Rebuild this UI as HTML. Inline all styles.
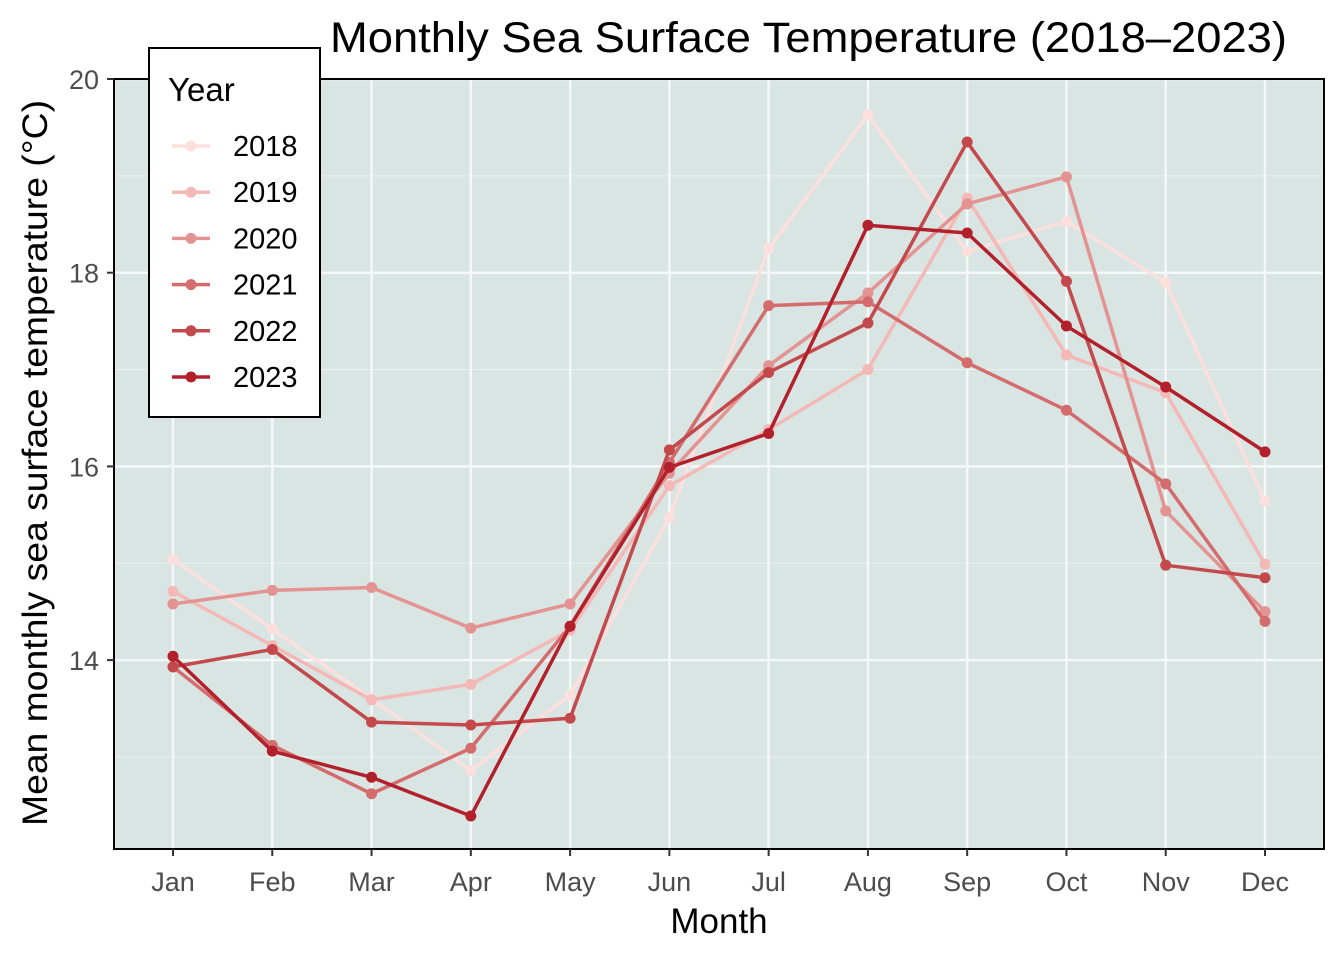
<!DOCTYPE html>
<html><head><meta charset="utf-8"><style>
body{margin:0;background:#fff;}
svg text{font-family:"Liberation Sans",Arial,sans-serif;}
</style></head><body>
<svg id="chart" width="1344" height="960">
<rect x="114" y="79" width="1210" height="770" fill="#d8e5e2"/>
<g id="grid"></g>
<g id="series"></g>
<rect x="114" y="79" width="1210" height="770" fill="none" stroke="#000" stroke-width="2"/>
<g id="axes"></g>
<text x="330" y="52" font-size="43" textLength="957" lengthAdjust="spacingAndGlyphs">Monthly Sea Surface Temperature (2018–2023)</text>
<text x="719" y="933" font-size="35" text-anchor="middle">Month</text>
<text transform="translate(47,826) rotate(-90)" font-size="35" textLength="726" lengthAdjust="spacingAndGlyphs">Mean monthly sea surface temperature (°C)</text>
<g id="legend">
<rect x="149" y="48" width="171" height="369" fill="#fff" stroke="#000" stroke-width="2"/>
<text x="168" y="101" font-size="33">Year</text>
</g>
</svg>
<script>
const months=["Jan","Feb","Mar","Apr","May","Jun","Jul","Aug","Sep","Oct","Nov","Dec"];
const years=["2018","2019","2020","2021","2022","2023"];
const yTicks=[14,16,18,20];
const v2018=[15.04,14.32,13.6,12.86,13.64,15.47,18.25,19.63,18.22,18.53,17.9,15.64];
const v2019=[14.71,14.15,13.59,13.75,14.31,15.8,16.38,17.0,18.77,17.15,16.76,14.99];
const v2020=[14.58,14.72,14.75,14.33,14.58,15.93,17.04,17.79,18.71,18.99,15.54,14.5];
const v2021=[13.93,13.12,12.62,13.09,14.35,16.04,17.66,17.7,17.07,16.58,15.82,14.4];
const v2022=[13.93,14.11,13.36,13.33,13.4,16.17,16.97,17.48,19.35,17.91,14.98,14.85];
const v2023=[14.04,13.06,12.79,12.39,14.35,15.99,16.34,18.49,18.41,17.45,16.82,16.15];
const seriesVals=[v2018,v2019,v2020,v2021,v2022,v2023];
const colors=["#fde0dd","#f4b8b6","#e39391","#d46c6d","#c4494d","#b2202b"];
const NS="http://www.w3.org/2000/svg";
const X=i=>173+i*(1265-173)/11;
const Y=v=>79+(20-v)*96.85;
function mk(t,a,p){const e=document.createElementNS(NS,t);for(const k in a)e.setAttribute(k,a[k]);p.appendChild(e);return e;}
const grid=document.getElementById('grid'),axes=document.getElementById('axes'),ser=document.getElementById('series'),leg=document.getElementById('legend');
for(let v=13;v<=19;v+=2){const l=mk('line',{x1:114,x2:1324,y1:Y(v),y2:Y(v),stroke:'#ecf2f1','stroke-width':1},grid);

}
yTicks.forEach(v=>{const l=mk('line',{x1:114,x2:1324,y1:Y(v),y2:Y(v),stroke:'#f4f8f7','stroke-width':2.5},grid);


mk('line',{x1:107,x2:114,y1:Y(v),y2:Y(v),stroke:'#333','stroke-width':2},axes);
const t=mk('text',{x:99,y:Y(v)+10,'font-size':27,'text-anchor':'end',fill:'#4d4d4d'},axes);t.textContent=v;

});
months.forEach((m,i)=>{const l=mk('line',{x1:X(i),x2:X(i),y1:79,y2:849,stroke:'#f4f8f7','stroke-width':2.5},grid);


mk('line',{x1:X(i),x2:X(i),y1:849,y2:856,stroke:'#333','stroke-width':2},axes);
const t=mk('text',{x:X(i),y:891,'font-size':27,'text-anchor':'middle',fill:'#4d4d4d'},axes);t.textContent=m;

});
seriesVals.forEach((vals,s)=>{const g=mk('g',{},ser);


mk('polyline',{points:vals.map((v,i)=>X(i)+','+Y(v)).join(' '),fill:'none',stroke:colors[s],'stroke-width':3.5,'stroke-linejoin':'round'},g);
vals.forEach((v,i)=>{const c=mk('circle',{cx:X(i),cy:Y(v),r:5.5,fill:colors[s]},g);

});
const ly=146+s*46.2;const e=mk('g',{},leg);


mk('line',{x1:172,x2:210,y1:ly,y2:ly,stroke:colors[s],'stroke-width':3.5},e);
mk('circle',{cx:191,cy:ly,r:5.5,fill:colors[s]},e);
const t=mk('text',{x:233,y:ly+10,'font-size':29},e);t.textContent=years[s];});
</script>
</body></html>
